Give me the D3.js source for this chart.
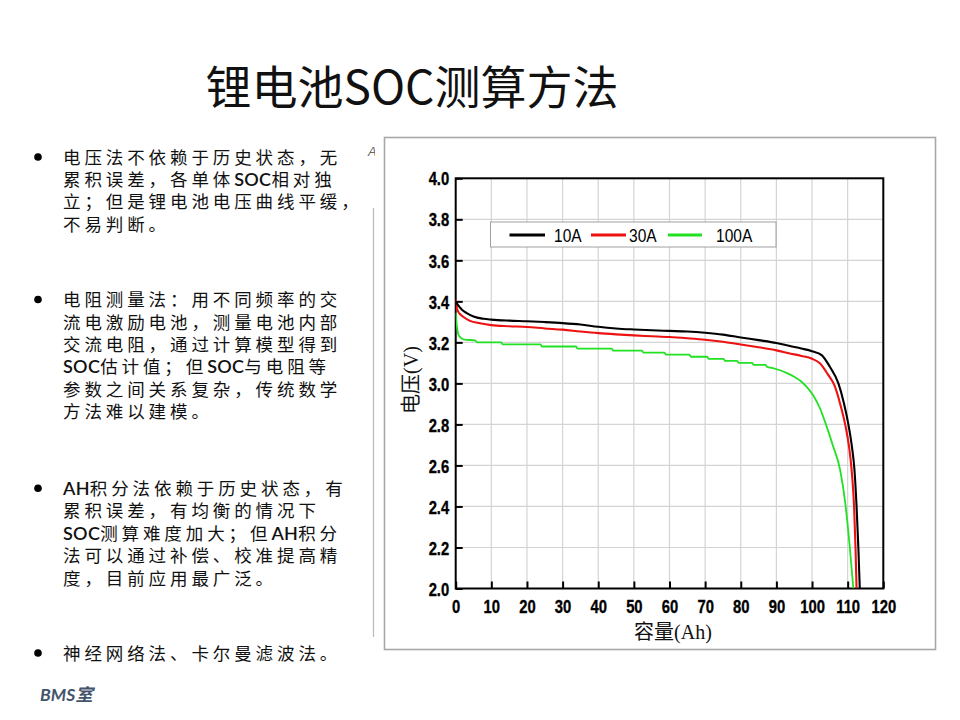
<!DOCTYPE html>
<html>
<head>
<meta charset="utf-8">
<script src="https://cdn.jsdelivr.net/npm/d3@7"></script>
<style>
  html, body { margin: 0; padding: 0; background: #fff; }
  svg { display: block; }
</style>
</head>
<body>
<script>
// ---------------- data ----------------
const seriesNames = ["10A", "30A", "100A"];
const seriesColors = ["#000000", "#ee1111", "#22e022"];

const curve10A = [
  [0,3.40],[0.5,3.385],[1.2,3.37],[2,3.355],[3.1,3.343],[5,3.326],[7.8,3.315],[10,3.311],
  [15,3.306],[20,3.303],[25,3.299],[30,3.294],[35,3.287],[40,3.276],[45,3.268],[50,3.263],
  [55,3.259],[60,3.256],[65,3.253],[70,3.247],[75,3.238],[80,3.224],[85,3.211],[90,3.197],
  [93.8,3.182],[97,3.17],[100,3.157],[102.7,3.138],[105,3.081],[107.4,3.0],[109.0,2.90],
  [110.2,2.80],[111.2,2.69],[111.9,2.58],[112.5,2.4],[113.0,2.2],[113.4,2.0]
];
const curve30A = [
  [0,3.41],[0.3,3.37],[0.7,3.35],[1.4,3.335],[2.1,3.325],[4,3.305],[6.8,3.293],[10,3.284],
  [15,3.279],[20,3.275],[25,3.268],[30,3.262],[35,3.253],[40,3.245],[45,3.239],[50,3.234],
  [55,3.23],[60,3.226],[65,3.22],[70,3.213],[75,3.203],[80,3.19],[85,3.176],[90,3.161],
  [93.8,3.146],[97,3.134],[100,3.12],[102.2,3.098],[104.4,3.045],[106.3,2.99],[107.9,2.90],
  [109.3,2.80],[110.4,2.69],[111.1,2.58],[111.8,2.4],[112.2,2.2],[112.5,2.0]
];
const curve100A = [
  [0,3.345],[0.2,3.30],[0.5,3.26],[0.8,3.235],[1.5,3.222],[2.5,3.213],[5.5,3.21],[6,3.20],
  [12.8,3.20],[13.2,3.19],[23.8,3.19],[24.2,3.18],[33.8,3.18],[34.2,3.17],[43.8,3.17],[44.2,3.16],
  [52.3,3.16],[52.7,3.15],[58.6,3.15],[59,3.14],[65.6,3.14],[66,3.13],[70.6,3.13],[71,3.12],
  [75.2,3.12],[75.6,3.11],[79,3.11],[79.4,3.10],[83.2,3.10],[83.6,3.09],[87,3.09],[87.4,3.08],
  [89,3.075],[91,3.064],[93,3.05],[95,3.032],[96.8,3.012],[98.5,2.983],[100.4,2.94],[102.2,2.88],
  [103.9,2.80],[105.8,2.70],[107.9,2.577],[109.3,2.42],[110.5,2.22],[111.6,2.0]
];

const xTicks = [0,10,20,30,40,50,60,70,80,90,100,110,120];
const yTicks = [2.0,2.2,2.4,2.6,2.8,3.0,3.2,3.4,3.6,3.8,4.0];
const xTitle = "容量(Ah)";
const yTitle = "电压(V)";
const pageTitle = "锂电池SOC测算方法";

const bulletBlocks = [
  ["电压法不依赖于历史状态，无", "累积误差，各单体SOC相对独", "立；但是锂电池电压曲线平缓，", "不易判断。"],
  ["电阻测量法：用不同频率的交", "流电激励电池，测量电池内部", "交流电阻，通过计算模型得到", "SOC估计值；但SOC与电阻等", "参数之间关系复杂，传统数学", "方法难以建模。"],
  ["AH积分法依赖于历史状态，有", "累积误差，有均衡的情况下", "SOC测算难度加大；但AH积分", "法可以通过补偿、校准提高精", "度，目前应用最广泛。"],
  ["神经网络法、卡尔曼滤波法。"]
];
const footer = "BMS室";

// ---------------- layout ----------------
const W = 960, H = 720;
const svg = d3.select("body").append("svg").attr("width", W).attr("height", H);

// Title
svg.append("text")
  .attr("x", 412).attr("y", 104)
  .attr("text-anchor", "middle")
  .attr("font-family", "'Noto Sans CJK SC', sans-serif")
  .attr("font-size", 46)
  .attr("fill", "#111")
  .text(pageTitle);

// Bullet text
const blockTop = [157, 299.5, 488.3, 653];
const lineGap = 22.4;
const bodySize = 17.5;
bulletBlocks.forEach((lines, bi) => {
  svg.append("circle").attr("cx", 38).attr("cy", blockTop[bi]).attr("r", 3.8).attr("fill", "#000");
  lines.forEach((ln, li) => {
    const t = svg.append("text")
      .attr("x", 63)
      .attr("y", blockTop[bi] + li * lineGap + 6.6)
      .attr("font-size", bodySize)
      .attr("fill", "#111");
    const runs = ln.match(/[\x00-\x7F]+|[^\x00-\x7F]+/g);
    runs.forEach(r => {
      const ascii = /^[\x00-\x7F]+$/.test(r);
      t.append("tspan")
        .attr("font-family", ascii ? "Lato, 'Open Sans', sans-serif" : "'Noto Sans CJK SC', sans-serif")
        .attr("font-weight", ascii ? 600 : 400)
        .attr("font-size", ascii ? 18 : bodySize)
        .attr("letter-spacing", ascii ? 0.3 : 3.9)
        .text(r);
    });
  });
});

// footer
svg.append("text")
  .attr("x", 40).attr("y", 701)
  .attr("font-family", "Lato, 'Noto Sans CJK SC', sans-serif")
  .attr("font-style", "italic").attr("font-weight", 700)
  .attr("font-size", 17.5)
  .attr("fill", "#44546a")
  .text(footer);

// ---------------- chart frame & artifacts ----------------
svg.append("rect")
  .attr("x", 384.5).attr("y", 137.5).attr("width", 551).attr("height", 512)
  .attr("fill", "#fff").attr("stroke", "#a8a8a8").attr("stroke-width", 1.6);

svg.append("line")
  .attr("x1", 373.5).attr("x2", 373.5).attr("y1", 208).attr("y2", 637)
  .attr("stroke", "#b8b8b8").attr("stroke-width", 1.2);

svg.append("clipPath").attr("id", "aclip")
  .append("rect").attr("x", 360).attr("y", 140).attr("width", 15).attr("height", 20);
svg.append("text")
  .attr("clip-path", "url(#aclip)")
  .attr("x", 368).attr("y", 156)
  .attr("font-family", "'Liberation Sans', sans-serif")
  .attr("font-style", "italic")
  .attr("font-size", 13).attr("fill", "#666")
  .text("A");

// ---------------- plot ----------------
const x = d3.scaleLinear().domain([0, 120]).range([455.7, 883.3]);
const y = d3.scaleLinear().domain([2.0, 4.0]).range([588.5, 178.3]);

const g = svg.append("g");

// grid
g.selectAll(".vg").data(xTicks.slice(1, -1)).enter().append("line")
  .attr("x1", d => x(d)).attr("x2", d => x(d))
  .attr("y1", y(2.0)).attr("y2", y(4.0))
  .attr("stroke", "#d4d4d4").attr("stroke-width", 1.2);
g.selectAll(".hg").data(yTicks.slice(1, -1)).enter().append("line")
  .attr("x1", x(0)).attr("x2", x(120))
  .attr("y1", d => y(d)).attr("y2", d => y(d))
  .attr("stroke", "#d4d4d4").attr("stroke-width", 1.2);

// axes with inward ticks
const tickFont = "'Liberation Sans', Arial, sans-serif";
const sx = 0.8; // condensed look
const xAxis = d3.axisBottom(x).tickValues(xTicks).tickSize(-7).tickPadding(11).tickFormat(d3.format("d"));
const yAxis = d3.axisLeft(y).tickValues(yTicks).tickSize(-7).tickPadding(7).tickFormat(d3.format(".1f"));

const gx = g.append("g").attr("transform", `translate(0,${y(2.0)})`).call(xAxis);
const gy = g.append("g").attr("transform", `translate(${x(0)},0)`).call(yAxis);
[gx, gy].forEach(a => {
  a.select(".domain").remove();
  a.selectAll(".tick line").attr("stroke", "#000").attr("stroke-width", 2);
  a.selectAll(".tick text")
    .attr("font-family", tickFont)
    .attr("font-weight", 700)
    .attr("font-size", 18.5)
    .attr("fill", "#000")
    .attr("stroke", "#000").attr("stroke-width", 0.35)
    .attr("transform", `scale(${sx},1)`);
});
gy.selectAll(".tick text").attr("x", -6.5 / sx).attr("dy", "0.36em");

// plot border
g.append("rect")
  .attr("x", x(0)).attr("y", y(4.0))
  .attr("width", x(120) - x(0)).attr("height", y(2.0) - y(4.0))
  .attr("fill", "none").attr("stroke", "#000").attr("stroke-width", 2);

// clip for curves
svg.append("clipPath").attr("id", "plotclip")
  .append("rect").attr("x", x(0)).attr("y", y(4.0))
  .attr("width", x(120) - x(0)).attr("height", y(2.0) - y(4.0));

const line = d3.line().x(d => x(d[0])).y(d => y(d[1])).curve(d3.curveMonotoneX);
const curves = [curve10A, curve30A, curve100A];
const cg = g.append("g").attr("clip-path", "url(#plotclip)");
[2, 1, 0].forEach(i => {
  cg.append("path")
    .datum(curves[i])
    .attr("d", line)
    .attr("fill", "none")
    .attr("stroke", seriesColors[i])
    .attr("stroke-width", i === 2 ? 1.8 : 2.1)
    .attr("stroke-linejoin", "round");
});

// axis titles
g.append("text")
  .attr("x", 673).attr("y", 639)
  .attr("text-anchor", "middle")
  .attr("font-family", "'Liberation Serif', 'Noto Sans CJK SC', serif")
  .attr("font-size", 20).attr("fill", "#111")
  .text(xTitle);
g.append("text")
  .attr("transform", "translate(418,380) rotate(-90)")
  .attr("text-anchor", "middle")
  .attr("font-family", "'Liberation Serif', 'Noto Sans CJK SC', serif")
  .attr("font-size", 20).attr("fill", "#111")
  .text(yTitle);

// legend
const lg = g.append("g");
lg.append("rect")
  .attr("x", 490.5).attr("y", 222).attr("width", 285.5).attr("height", 25)
  .attr("fill", "#fff").attr("stroke", "#a0a0a0").attr("stroke-width", 1);
const legLineX = [[509.5, 545], [591, 626], [668, 702]];
const legTextX = [554, 629, 716];
seriesNames.forEach((nm, i) => {
  lg.append("line")
    .attr("x1", legLineX[i][0]).attr("x2", legLineX[i][1])
    .attr("y1", 235).attr("y2", 235)
    .attr("stroke", seriesColors[i]).attr("stroke-width", 3);
  lg.append("text")
    .attr("x", legTextX[i] / 0.84).attr("y", 242.5)
    .attr("transform", "scale(0.84,1)")
    .attr("font-family", tickFont)
    .attr("font-size", 18.5).attr("fill", "#000")
    .text(nm);
});
</script>
</body>
</html>
